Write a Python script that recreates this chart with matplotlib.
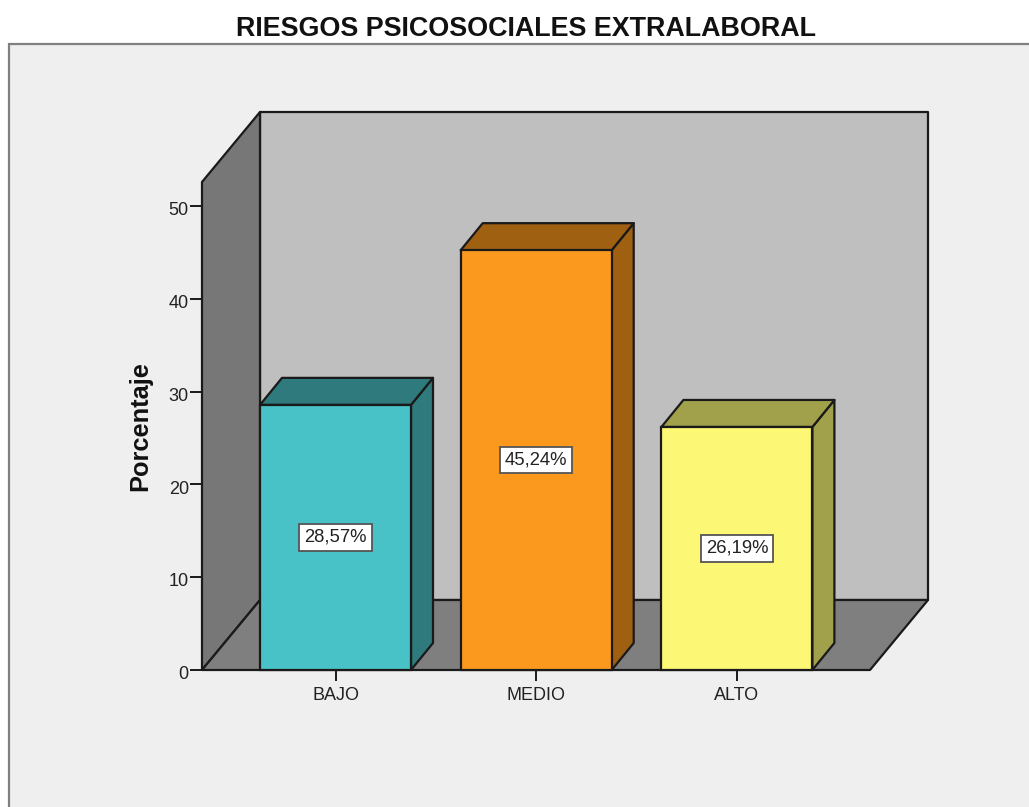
import matplotlib
matplotlib.use("Agg")
import matplotlib.pyplot as plt
from matplotlib.patches import Rectangle
from matplotlib.transforms import ScaledTranslation

plt.rcParams['font.family'] = ['Liberation Sans', 'DejaVu Sans']

categories = ["BAJO", "MEDIO", "ALTO"]
percentages = [28.57, 45.24, 26.19]
y_ticks = [0, 10, 20, 30, 40, 50]

front_colors = ['#48C2C6', '#FB991F', '#FCF774']
side_colors = ['#2E7A7C', '#A06012', '#A1A04B']
top_colors = ['#2E7A7C', '#A06012', '#A1A04B']

FIG_W, FIG_H = 1029, 807
LINE = '#1a1a1a'
TEXT = '#222222'
LW = 1.6


def main():
    fig = plt.figure(figsize=(FIG_W / 100, FIG_H / 100), dpi=100, facecolor='white')

    # Light grey panel behind the chart, running off the right and bottom edges
    px, py = 9 / FIG_W, 1 - 44 / FIG_H
    fig.add_artist(Rectangle((px, -0.01), 1.01 - px, py + 0.01, transform=fig.transFigure,
                             facecolor='#EFEFEF', edgecolor='#808080', linewidth=1.6, zorder=-1))
    fig.text(526 / FIG_W, 1 - 28.5 / FIG_H, "RIESGOS PSICOSOCIALES EXTRALABORAL",
             fontsize=19.4, fontweight='bold', ha='center', va='center', color='#111111')

    # Axes box spans the whole 3D frame, front face plus depth
    left, right, top, bottom = 202, 928, 112, 670
    ax = fig.add_axes([left / FIG_W, 1 - bottom / FIG_H, (right - left) / FIG_W, (bottom - top) / FIG_H])
    ax.patch.set_visible(False)
    for spine in ax.spines.values():
        spine.set_visible(False)

    x_unit = 200.7   # pixels per category
    y_unit = 9.28    # pixels per percent
    x_min = (left - 335.5) / x_unit
    x_max = (right - 335.5) / x_unit
    ax.set_xlim(x_min, x_max)
    ax.set_ylim(0, (bottom - top) / y_unit)

    # Frame depth and bar depth in data units
    wall_dx, wall_dy = 58 / x_unit, 70 / y_unit
    bar_dx, bar_dy = 22 / x_unit, 27 / y_unit
    bar_width = 151 / x_unit
    y_max = ax.get_ylim()[1]
    front_top = y_max - wall_dy

    style = dict(edgecolor=LINE, linewidth=LW, joinstyle='round', clip_on=False)

    # Back wall, left wall and floor
    ax.fill([x_min + wall_dx, x_max, x_max, x_min + wall_dx],
            [wall_dy, wall_dy, y_max, y_max], facecolor='#BFBFBF', zorder=1, **style)
    ax.fill([x_min, x_min + wall_dx, x_min + wall_dx, x_min],
            [0, wall_dy, y_max, front_top], facecolor='#777777', zorder=1, **style)
    ax.fill([x_min, x_max - wall_dx, x_max, x_min + wall_dx],
            [0, 0, wall_dy, wall_dy], facecolor='#7F7F7F', zorder=1, **style)

    # Bars as front, side and top faces
    for i, value in enumerate(percentages):
        x0 = i - bar_width / 2
        x1 = i + bar_width / 2
        ax.fill([x1, x1 + bar_dx, x1 + bar_dx, x1],
                [0, bar_dy, value + bar_dy, value],
                facecolor=side_colors[i], zorder=2, **style)
        ax.fill([x0, x1, x1 + bar_dx, x0 + bar_dx],
                [value, value, value + bar_dy, value + bar_dy],
                facecolor=top_colors[i], zorder=2, **style)
        ax.bar(i, value, width=bar_width, color=front_colors[i], edgecolor=LINE,
               linewidth=LW, zorder=3, clip_on=False)
        ax.text(i, value / 2, f"{value:.2f}%".replace('.', ','), fontsize=13.3, color=TEXT,
                ha='center', va='center', zorder=5,
                bbox=dict(boxstyle='square,pad=0.26', facecolor='white',
                          edgecolor='#555555', linewidth=1.3))

    ax.set_xticks(range(len(categories)))
    ax.set_xticklabels(categories)
    ax.set_yticks(y_ticks)
    ax.tick_params(axis='x', length=8, width=1.4, color=LINE, labelsize=13, labelcolor=TEXT, pad=4)
    ax.tick_params(axis='y', length=8.5, width=1.4, color=LINE, labelsize=13, labelcolor=TEXT, pad=1)

    # Value labels sit a little below their tick marks
    nudge = ScaledTranslation(0, -2 / 72, fig.dpi_scale_trans)
    for label in ax.get_yticklabels():
        label.set_transform(label.get_transform() + nudge)

    fig.text(140 / FIG_W, 1 - 426 / FIG_H, "Porcentaje", rotation=90, fontsize=18.3,
             fontweight='bold', ha='center', va='center', color='#111111')

    fig.savefig("out.png", dpi=100)
    plt.close(fig)


if __name__ == "__main__":
    main()
